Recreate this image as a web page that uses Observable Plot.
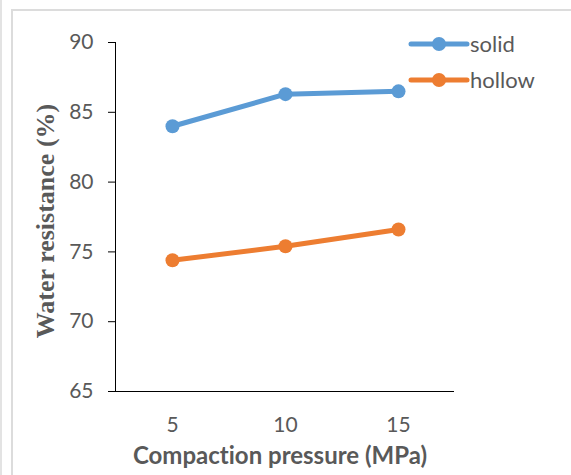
<!DOCTYPE html>
<html>
<head>
<meta charset="utf-8">
<script src="https://cdn.jsdelivr.net/npm/d3@7"></script>
<script src="https://cdn.jsdelivr.net/npm/@observablehq/plot@0.6"></script>
<style>
  html, body { margin: 0; padding: 0; background: #fff; }
  #chart { position: relative; width: 571px; height: 475px; overflow: hidden; background: #fff; }
  #chart svg { position: absolute; left: 0; top: 0; }
  #chart svg text { font-variant-ligatures: none; font-feature-settings: "liga" 0; }
  .edge { position: absolute; left: 0; top: 0; width: 2px; height: 475px; background: #e3e3e3; }
  .panel { position: absolute; left: 11px; top: 9px; width: 620px; height: 520px;
           border-left: 2px solid #dcdcdc; border-top: 2px solid #dcdcdc; box-sizing: border-box; }
</style>
</head>
<body>
<div id="chart"><div class="edge"></div><div class="panel"></div></div>
<script>
// Compaction pressure (MPa) categories
const pressures = ["5", "10", "15"];
// Water resistance (%) per pressure
const solidValues = [84.0, 86.3, 86.5];
const hollowValues = [74.4, 75.4, 76.6];
// Series and axis settings
const seriesNames = ["solid", "hollow"];
const seriesColors = ["#5B9BD5", "#ED7D31"];
const yTicks = [65, 70, 75, 80, 85, 90];
const xTitle = "Compaction pressure (MPa)";
const yTitle = "Water resistance (%)";

const rows = [
  ...pressures.map((p, i) => ({pressure: p, value: solidValues[i], series: "solid"})),
  ...pressures.map((p, i) => ({pressure: p, value: hollowValues[i], series: "hollow"}))
];

const sans = "Lato, 'Open Sans', sans-serif";
const textColor = "#595959";

const plot = Plot.plot({
  width: 571,
  height: 475,
  marginLeft: 115,
  marginRight: 117,
  marginTop: 42,
  marginBottom: 84,
  style: {background: "transparent", fontFamily: sans, fontSize: "21px", color: textColor},
  x: {type: "point", domain: pressures, padding: 0.5},
  y: {domain: [65, 90]},
  color: {domain: seriesNames, range: seriesColors},
  marks: [
    Plot.axisY({ticks: yTicks, tickSize: 7, tickPadding: 15, label: null, stroke: "#000", fill: textColor}),
    Plot.axisX({tickSize: 0, tickPadding: 26, label: null, fill: textColor}),
    Plot.frame({anchor: "left", stroke: "#000"}),
    Plot.ruleY([65], {stroke: "#000"}),
    Plot.line(rows, {x: "pressure", y: "value", z: "series", stroke: "series", strokeWidth: 5, strokeLinecap: "round"}),
    Plot.dot(rows, {x: "pressure", y: "value", fill: "series", r: 7}),
    Plot.text([xTitle], {frameAnchor: "bottom", dx: -5, dy: 72, fontWeight: "bold", fontSize: 24, fill: textColor}),
    Plot.text([yTitle], {frameAnchor: "left", textAnchor: "middle", rotate: -90, dx: -70, dy: 4, fontFamily: "'Liberation Serif', serif", fontWeight: "bold", fontSize: 26, fill: textColor})
  ]
});
document.getElementById("chart").appendChild(plot);

// Legend in the top-right corner
const legend = d3.select("#chart").append("svg")
  .attr("width", 571).attr("height", 475)
  .style("pointer-events", "none");
const item = legend.selectAll("g").data(seriesNames).join("g")
  .attr("transform", (d, i) => `translate(411, ${44 + i * 36})`);
item.append("line").attr("x1", 0).attr("x2", 56)
  .attr("stroke", (d, i) => seriesColors[i]).attr("stroke-width", 5).attr("stroke-linecap", "round");
item.append("circle").attr("cx", 28).attr("r", 7).attr("fill", (d, i) => seriesColors[i]);
item.append("text").attr("x", 59).attr("dy", "0.35em")
  .attr("font-family", sans).attr("font-size", 22).attr("fill", textColor)
  .text(d => d);
</script>
</body>
</html>
